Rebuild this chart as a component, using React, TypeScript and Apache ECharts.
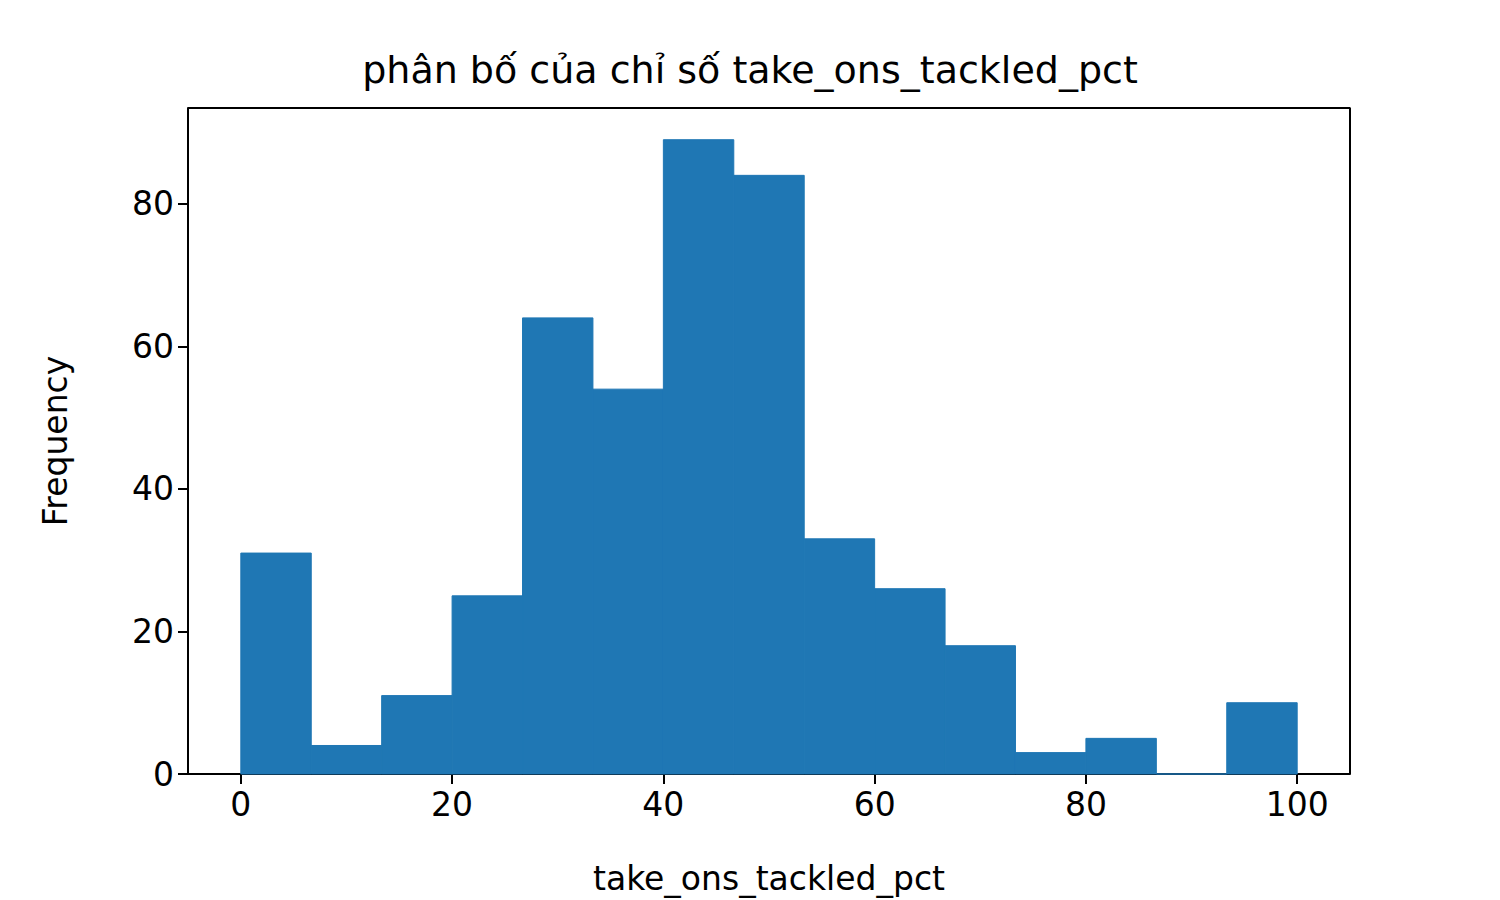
import React, { useEffect, useRef } from "react";
import * as echarts from "echarts";

const binEdges = [0, 6.667, 13.333, 20, 26.667, 33.333, 40, 46.667, 53.333, 60, 66.667, 73.333, 80, 86.667, 93.333, 100];
const counts = [31, 4, 11, 25, 64, 54, 89, 84, 33, 26, 18, 3, 5, 0, 10];
const xTicks = [0, 20, 40, 60, 80, 100];
const yTicks = [0, 20, 40, 60, 80];

export default function App() {
  const ref = useRef<HTMLDivElement>(null);
  useEffect(() => {
    const chart = echarts.init(ref.current!, null, { renderer: "svg" });
    const data = counts.map((c, i) => [binEdges[i], binEdges[i + 1], c]);
    const font = "DejaVu Sans";
    chart.setOption({
      animation: false,
      title: {
        text: "phân bố của chỉ số take_ons_tackled_pct",
        left: "center",
        top: 46,
        textStyle: { fontFamily: font, fontSize: 38, fontWeight: "normal", color: "#000" },
      },
      grid: { left: 188, right: 150, top: 108, bottom: 77 },
      xAxis: {
        type: "value",
        min: -5,
        max: 105,
        interval: 20,
        name: "take_ons_tackled_pct",
        nameLocation: "middle",
        nameGap: 88,
        nameTextStyle: { fontFamily: font, fontSize: 33, color: "#000" },
        axisLine: { onZero: false, lineStyle: { color: "#000", width: 2 } },
        axisTick: { show: true, length: 10, lineStyle: { color: "#000", width: 2 }, customValues: xTicks },
        axisLabel: { fontFamily: font, fontSize: 33, color: "#000", margin: 14, customValues: xTicks },
        splitLine: { show: false },
      },
      yAxis: {
        type: "value",
        min: 0,
        max: 93.45,
        name: "Frequency",
        nameLocation: "middle",
        nameGap: 116,
        nameTextStyle: { fontFamily: font, fontSize: 33, color: "#000" },
        axisLine: { show: true, onZero: false, lineStyle: { color: "#000", width: 2 } },
        axisTick: { show: true, length: 10, lineStyle: { color: "#000", width: 2 }, customValues: yTicks },
        axisLabel: { fontFamily: font, fontSize: 33, color: "#000", margin: 14, customValues: yTicks },
        splitLine: { show: false },
      },
      series: [
        {
          type: "custom",
          data,
          encode: { x: [0, 1], y: 2 },
          renderItem: (params: any, api: any) => {
            const p0 = api.coord([api.value(0), api.value(2)]);
            const p1 = api.coord([api.value(1), 0]);
            return {
              type: "rect",
              shape: { x: p0[0], y: p0[1], width: p1[0] - p0[0], height: p1[1] - p0[1] },
              style: { fill: "#1f77b4", stroke: "#1f77b4", lineWidth: 1 },
            };
          },
        },
        {
          type: "line",
          data: [[105, 0], [105, 93.45], [-5, 93.45]],
          symbol: "none",
          lineStyle: { color: "#000", width: 2 },
          silent: true,
        },
      ],
    });
    return () => chart.dispose();
  }, []);
  return <div ref={ref} style={{ position: "absolute", left: 0, top: 0, width: 1500, height: 900 }} />;
}
